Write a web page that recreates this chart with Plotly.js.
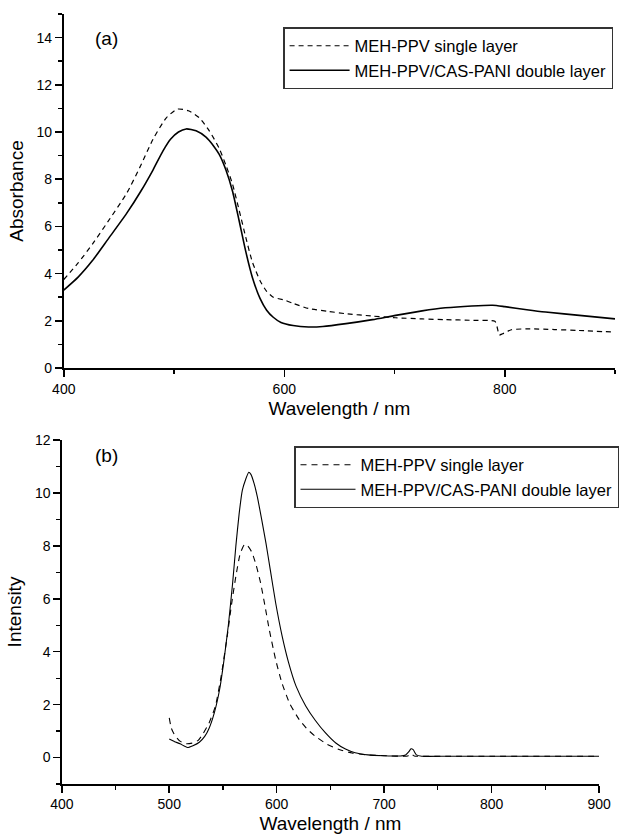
<!DOCTYPE html>
<html>
<head>
<meta charset="utf-8">
<script src="https://cdn.plot.ly/plotly-3.0.1.min.js"></script>
<style>html,body{margin:0;padding:0;background:#fff;}#chart{width:619px;height:834px;}</style>
</head>
<body>
<div id="chart"></div>
<script>
// Panel (a): absorbance
const absSingleX = [400,413,426,440,457,470,481,493,503,513,523,532,541,547,553,559,565,571,578,584,590,600,608,622,640,656,680,701,725,746,770,791,793,795,798,806,821,845,867,900];
const absSingleY = [3.75,4.45,5.25,6.2,7.4,8.6,9.7,10.6,10.97,10.9,10.6,10.05,9.3,8.6,7.8,6.7,5.55,4.5,3.7,3.25,3.0,2.88,2.74,2.52,2.4,2.3,2.2,2.13,2.08,2.05,2.02,1.98,1.75,1.4,1.45,1.62,1.66,1.63,1.59,1.52];
const absDoubleX = [400,413,426,440,457,470,481,490,497,504,511,520,529,536,541,547,553,559,565,571,578,584,590,597,608,622,635,656,680,701,725,746,770,789,800,820,837,870,900];
const absDoubleY = [3.3,3.85,4.55,5.45,6.55,7.5,8.4,9.2,9.7,10.0,10.13,10.05,9.78,9.4,9.05,8.4,7.5,6.25,4.95,3.85,2.95,2.45,2.15,1.93,1.8,1.74,1.76,1.88,2.05,2.23,2.42,2.55,2.63,2.66,2.6,2.47,2.37,2.22,2.08];

// Panel (b): photoluminescence intensity
const plSingleX = [500,502,505,510,516,522,527,531,537,543,548,554,558,562,566,570,573,577,581,585,589,593,599,605,612,621,629,636,647,658,670,685,700,722,725,728,760,800,850,900];
const plSingleY = [1.5,1.1,0.85,0.62,0.52,0.55,0.65,0.87,1.3,1.95,3.0,4.6,5.8,6.85,7.7,8.05,8.0,7.75,7.25,6.6,5.75,4.85,3.7,2.8,2.05,1.43,1.05,0.8,0.5,0.3,0.17,0.1,0.07,0.06,0.15,0.06,0.05,0.05,0.05,0.05];
const plDoubleX = [500,505,510,517,522,528,533,537,542,547,551,555,559,562,565,568,571,574,576,579,582,586,590,594,599,605,611,618,627,636,645,655,664,673,685,700,715,720,723,725,727,730,735,760,800,850,900];
const plDoubleY = [0.7,0.6,0.52,0.38,0.45,0.58,0.8,1.1,1.7,2.6,3.7,5.0,6.6,8.0,9.2,10.1,10.5,10.78,10.7,10.35,9.85,9.0,8.1,7.1,5.85,4.6,3.6,2.7,1.95,1.4,0.95,0.55,0.32,0.18,0.1,0.07,0.06,0.1,0.22,0.33,0.3,0.1,0.05,0.05,0.05,0.05,0.05];

const nameSingle = 'MEH-PPV single layer';
const nameDouble = 'MEH-PPV/CAS-PANI double layer';
const FONT = 'Liberation Sans, Arial, Helvetica, sans-serif';
const W = 619, H = 834;
const px = v => v / W;
const py = v => (H - v) / H;

const traces = [
  {x: absSingleX, y: absSingleY, name: nameSingle, type: 'scatter', mode: 'lines', xaxis: 'x', yaxis: 'y', legend: 'legend',
   line: {color: '#000', width: 1.2, dash: '5px,4px', shape: 'spline', smoothing: 0.6}},
  {x: absDoubleX, y: absDoubleY, name: nameDouble, type: 'scatter', mode: 'lines', xaxis: 'x', yaxis: 'y', legend: 'legend',
   line: {color: '#000', width: 1.6, shape: 'spline', smoothing: 0.6}},
  {x: plSingleX, y: plSingleY, name: nameSingle, type: 'scatter', mode: 'lines', xaxis: 'x2', yaxis: 'y2', legend: 'legend2',
   line: {color: '#000', width: 1.1, dash: '6px,5px', shape: 'spline', smoothing: 0.5}},
  {x: plDoubleX, y: plDoubleY, name: nameDouble, type: 'scatter', mode: 'lines', xaxis: 'x2', yaxis: 'y2', legend: 'legend2',
   line: {color: '#000', width: 1.1, shape: 'spline', smoothing: 0.5}}
];

const axisCommon = {
  showgrid: false, zeroline: false, showline: true, linecolor: '#000',
  ticks: 'outside', tickcolor: '#000', ticklen: 7, tickwidth: 1.5,
  tickfont: {family: FONT, size: 14, color: '#000'},
  fixedrange: true
};

const layout = {
  width: W, height: H,
  margin: {l: 0, r: 0, t: 0, b: 0},
  paper_bgcolor: '#fff', plot_bgcolor: '#fff',
  font: {family: FONT, color: '#000'},
  showlegend: true,
  xaxis: Object.assign({}, axisCommon, {
    domain: [px(64), px(617)], range: [400, 900], anchor: 'y', linewidth: 2,
    tick0: 400, dtick: 200, minor: {dtick: 100, ticks: 'outside', ticklen: 4, tickcolor: '#000', tickwidth: 1.5},
    title: {text: 'Wavelength / nm', font: {family: FONT, size: 19, color: '#000'}, standoff: 6}
  }),
  yaxis: Object.assign({}, axisCommon, {
    domain: [py(368), py(14)], range: [0, 15], anchor: 'x', linewidth: 2,
    tick0: 0, dtick: 2, minor: {dtick: 1, ticks: 'outside', ticklen: 4, tickcolor: '#000', tickwidth: 1.5},
    title: {text: 'Absorbance', font: {family: FONT, size: 19, color: '#000'}, standoff: 8}
  }),
  xaxis2: Object.assign({}, axisCommon, {
    domain: [px(62), px(601)], range: [400, 900], anchor: 'y2', linewidth: 1.5,
    tick0: 400, dtick: 100, minor: {dtick: 50, ticks: 'outside', ticklen: 4, tickcolor: '#000', tickwidth: 1.2},
    title: {text: 'Wavelength / nm', font: {family: FONT, size: 19, color: '#000'}, standoff: 6}
  }),
  yaxis2: Object.assign({}, axisCommon, {
    domain: [py(784), py(440)], range: [-1, 12], anchor: 'x2', linewidth: 1.5,
    tick0: 0, dtick: 2, minor: {dtick: 1, ticks: 'outside', ticklen: 4, tickcolor: '#000', tickwidth: 1.2},
    title: {text: 'Intensity', font: {family: FONT, size: 19, color: '#000'}, standoff: 8}
  }),
  legend: {
    x: px(284), y: py(27), xanchor: 'left', yanchor: 'top',
    bgcolor: '#fff', bordercolor: '#333', borderwidth: 1.5,
    font: {family: FONT, size: 16.5, color: '#000'}, itemwidth: 60, tracegroupgap: 0
  },
  legend2: {
    x: px(295), y: py(446), xanchor: 'left', yanchor: 'top',
    bgcolor: '#fff', bordercolor: '#333', borderwidth: 1.5,
    font: {family: FONT, size: 16.5, color: '#000'}, itemwidth: 55, tracegroupgap: 0
  },
  annotations: [
    {text: '(a)', xref: 'paper', yref: 'paper', x: px(107), y: py(38), xanchor: 'center', yanchor: 'middle', showarrow: false, font: {family: FONT, size: 19, color: '#000'}},
    {text: '(b)', xref: 'paper', yref: 'paper', x: px(107), y: py(456), xanchor: 'center', yanchor: 'middle', showarrow: false, font: {family: FONT, size: 19, color: '#000'}}
  ]
};

Plotly.newPlot('chart', traces, layout, {displayModeBar: false, staticPlot: true});
</script>
</body>
</html>
